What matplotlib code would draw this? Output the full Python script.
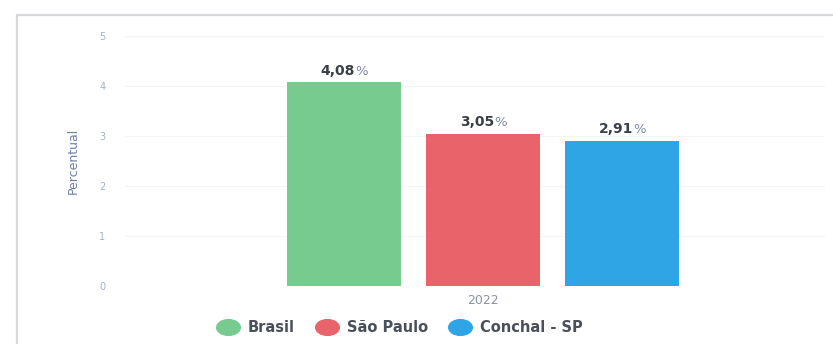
import matplotlib
matplotlib.use("Agg")
import matplotlib.pyplot as plt
from matplotlib.path import Path
from matplotlib.transforms import Affine2D
from matplotlib.lines import Line2D
from matplotlib.patches import Rectangle

# Data
categories = ["Brasil", "São Paulo", "Conchal - SP"]
values = [4.08, 3.05, 2.91]
year_label = "2022"
colors = ["#78cb8e", "#e8636a", "#2fa5e6"]
y_ticks = [0, 1, 2, 3, 4, 5]

fig = plt.figure(figsize=(8.33, 3.44), dpi=100)
fig.patch.set_facecolor("white")

# card border
fig.add_artist(Rectangle((17 / 833, -0.01), 1.0, (344 - 15) / 344 + 0.01,
                         transform=fig.transFigure, facecolor="white",
                         edgecolor="#d6d8dc", linewidth=1.6, zorder=0))

ax = fig.add_axes([125 / 833, (344 - 286) / 344, 700 / 833, 250 / 344])
ax.set_facecolor("none")

positions = [-1, 0, 1]
bar_w = 0.815
ax.bar(positions, values, width=bar_w, color=colors, zorder=3)

for x, v in zip(positions, values):
    num = f"{v:.2f}".replace(".", ",")
    ax.annotate(num, (x, v), xytext=(8, 3), textcoords="offset points",
                ha="right", va="bottom", fontsize=10, fontweight="bold",
                color="#3b3f48", family="DejaVu Sans")
    ax.annotate("%", (x, v), xytext=(8.1, 3), textcoords="offset points",
                ha="left", va="bottom", fontsize=9.5,
                color="#7f8aa3", family="DejaVu Sans")

ax.set_ylim(0, 5)
ax.set_xlim((125 - 483) / 139, (825 - 483) / 139)
ax.set_yticks(y_ticks)
ax.set_yticklabels([str(t) for t in y_ticks], fontsize=7, color="#a3afca")
ax.tick_params(axis="y", length=0, pad=14)
ax.set_xticks([0])
ax.set_xticklabels([year_label], fontsize=9, color="#8a93a6")
ax.tick_params(axis="x", length=0, pad=6)
ax.grid(axis="y", color="#f3f4f6", linewidth=0.8, zorder=0)
for s in ax.spines.values():
    s.set_visible(False)
ax.axhline(0, color="#eceef2", linewidth=0.8, zorder=1)
ax.set_ylabel("Percentual", fontsize=9, color="#6c80a8",
              family="Liberation Sans Narrow", labelpad=14)

# legend with oval markers
oval = Path.unit_circle().transformed(Affine2D().scale(1.5, 1.0))
handles = [Line2D([], [], linestyle="none", marker=oval, markersize=17,
                  markerfacecolor=c, markeredgecolor=c) for c in colors]
fig.legend(handles, categories, loc="center", bbox_to_anchor=(398 / 833, (344 - 328) / 344),
           ncol=3, frameon=False, handletextpad=0.35, columnspacing=1.2,
           prop={"size": 10.5, "weight": "bold", "family": "DejaVu Sans"},
           labelcolor="#4a4f5c")

fig.savefig("out.png", dpi=100, facecolor="white")
